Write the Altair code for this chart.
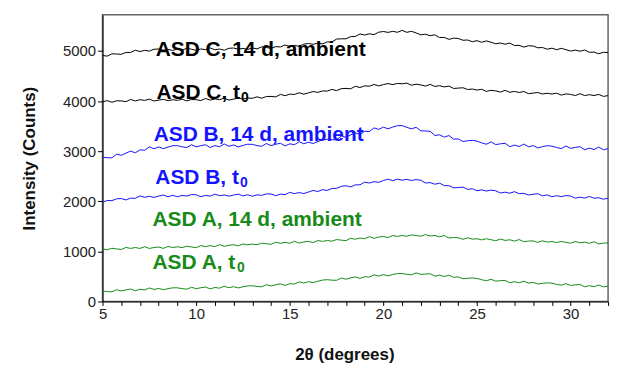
import altair as alt
import pandas as pd

# 2-theta grid (degrees), 0.25 degree steps from 5 to 32
two_theta = [5 + 0.25 * i for i in range(109)]

asd_c_14d = [4910, 4896, 4942, 4939, 4932, 4970, 4969, 5014, 4988, 5012, 4996, 5034, 5038,
             5014, 5031, 5008, 5040, 5016, 5052, 5034, 5012, 5039, 5026, 5060, 5023,
             5038, 5013, 5053, 5058, 5034, 5051, 5028, 5060, 5041, 5082, 5069, 5052,
             5086, 5079, 5118, 5088, 5110, 5091, 5136, 5148, 5132, 5156, 5140, 5180,
             5178, 5237, 5242, 5242, 5286, 5289, 5338, 5318, 5342, 5326, 5374, 5388,
             5370, 5391, 5372, 5410, 5371, 5392, 5359, 5322, 5333, 5304, 5321, 5268,
             5270, 5231, 5256, 5248, 5213, 5218, 5184, 5205, 5172, 5200, 5173, 5142,
             5158, 5134, 5156, 5108, 5112, 5076, 5104, 5098, 5063, 5068, 5034, 5055,
             5024, 5052, 5026, 4997, 5016, 4994, 5018, 4973, 4978, 4944, 4973, 4968]

asd_c_t0 = [3984, 4008, 3975, 4006, 4002, 3988, 4032, 4001, 4027, 4012, 4038, 4001, 4018,
            4034, 4008, 4026, 4014, 4037, 4002, 4031, 4027, 4010, 4051, 4018, 4042,
            4028, 4055, 4019, 4038, 4059, 4038, 4061, 4054, 4084, 4055, 4090, 4092,
            4083, 4132, 4106, 4137, 4131, 4165, 4137, 4163, 4189, 4173, 4201, 4199,
            4232, 4208, 4247, 4252, 4244, 4294, 4270, 4302, 4296, 4330, 4302, 4328,
            4349, 4328, 4351, 4344, 4358, 4315, 4336, 4322, 4298, 4332, 4291, 4307,
            4282, 4298, 4251, 4258, 4265, 4230, 4240, 4219, 4235, 4192, 4214, 4202,
            4179, 4214, 4175, 4192, 4171, 4190, 4147, 4158, 4170, 4140, 4155, 4139,
            4157, 4118, 4142, 4132, 4110, 4146, 4109, 4127, 4110, 4132, 4093, 4108]

asd_b_14d = [2880, 2869, 2866, 2940, 2916, 2960, 3001, 2966, 3026, 3017, 3086, 3048, 3084,
             3049, 3082, 3109, 3110, 3086, 3071, 3128, 3086, 3109, 3128, 3072, 3111,
             3088, 3144, 3097, 3124, 3085, 3114, 3138, 3135, 3111, 3096, 3152, 3111,
             3137, 3158, 3104, 3146, 3128, 3188, 3147, 3179, 3152, 3192, 3226, 3235,
             3228, 3228, 3301, 3276, 3323, 3366, 3333, 3396, 3391, 3464, 3434, 3479,
             3445, 3480, 3508, 3510, 3474, 3446, 3475, 3406, 3403, 3396, 3313, 3326,
             3280, 3311, 3240, 3244, 3192, 3207, 3216, 3200, 3165, 3138, 3184, 3131,
             3146, 3156, 3090, 3121, 3092, 3141, 3088, 3109, 3065, 3090, 3108, 3100,
             3072, 3051, 3102, 3056, 3074, 3088, 3027, 3061, 3032, 3081, 3028, 3049]

asd_b_t0 = [1980, 2016, 2012, 2048, 2054, 2026, 2062, 2058, 2106, 2079, 2098, 2077, 2104,
            2124, 2091, 2118, 2090, 2117, 2104, 2132, 2129, 2091, 2117, 2103, 2141,
            2110, 2126, 2101, 2124, 2142, 2106, 2130, 2100, 2128, 2117, 2146, 2144,
            2111, 2142, 2133, 2176, 2152, 2173, 2154, 2184, 2216, 2194, 2231, 2215,
            2256, 2257, 2298, 2309, 2286, 2327, 2328, 2381, 2363, 2390, 2378, 2414,
            2440, 2411, 2442, 2420, 2437, 2414, 2432, 2419, 2364, 2372, 2340, 2361,
            2313, 2310, 2268, 2274, 2282, 2236, 2250, 2210, 2227, 2204, 2222, 2209,
            2164, 2182, 2160, 2191, 2152, 2158, 2124, 2139, 2151, 2108, 2126, 2090,
            2111, 2092, 2113, 2104, 2061, 2082, 2063, 2096, 2060, 2070, 2041, 2059]

asd_a_14d = [1046, 1032, 1062, 1049, 1037, 1078, 1058, 1077, 1058, 1094, 1057, 1077, 1086,
             1060, 1098, 1077, 1091, 1075, 1103, 1088, 1074, 1115, 1094, 1114, 1095,
             1134, 1099, 1122, 1133, 1109, 1148, 1130, 1146, 1132, 1163, 1152, 1140,
             1182, 1161, 1180, 1162, 1200, 1165, 1188, 1198, 1175, 1216, 1199, 1216,
             1203, 1235, 1224, 1214, 1260, 1243, 1266, 1252, 1293, 1260, 1285, 1298,
             1275, 1316, 1299, 1316, 1300, 1329, 1316, 1302, 1335, 1306, 1317, 1290,
             1315, 1266, 1276, 1273, 1240, 1271, 1244, 1251, 1229, 1252, 1232, 1212,
             1246, 1218, 1231, 1205, 1235, 1192, 1206, 1208, 1178, 1211, 1186, 1196,
             1176, 1199, 1180, 1162, 1198, 1171, 1184, 1160, 1192, 1149, 1164, 1168]

asd_a_t0 = [209, 197, 192, 234, 210, 231, 248, 213, 244, 230, 269, 240, 260,
            234, 256, 272, 272, 256, 245, 283, 255, 274, 288, 250, 279,
            266, 304, 274, 295, 270, 293, 311, 312, 299, 293, 334, 310,
            334, 353, 320, 354, 347, 392, 368, 395, 376, 404, 427, 434,
            425, 422, 466, 445, 470, 490, 459, 494, 487, 532, 508, 535,
            512, 537, 556, 559, 542, 532, 569, 540, 548, 553, 506, 524,
            498, 524, 482, 490, 453, 464, 470, 459, 434, 414, 442, 405,
            415, 420, 374, 394, 373, 404, 367, 380, 347, 362, 371, 364,
            341, 324, 355, 320, 331, 338, 293, 314, 294, 326, 291, 305]

series_names = ["ASD C, 14 d", "ASD C, t0", "ASD B, 14 d", "ASD B, t0", "ASD A, 14 d", "ASD A, t0"]
series_values = [asd_c_14d, asd_c_t0, asd_b_14d, asd_b_t0, asd_a_14d, asd_a_t0]
series_colors = ["#000000", "#000000", "#1414ff", "#1414ff", "#178a17", "#178a17"]

label_text = ["ASD C, 14 d, ambient", "ASD C, t", "ASD B, 14 d, ambient",
              "ASD B, t", "ASD A, 14 d, ambient", "ASD A, t"]
label_sub = ["", "0", "", "0", "", "0"]
label_x = [7.84, 7.88, 7.73, 7.82, 7.67, 7.67]
label_y = [4901, 4040, 3212, 2338, 1510, 650]

rows = []
for name, vals in zip(series_names, series_values):
    for t, v in zip(two_theta, vals):
        rows.append({"two_theta": t, "intensity": v, "series": name})
lines_df = pd.DataFrame(rows)

labels_df = pd.DataFrame({
    "x": label_x, "y": label_y, "text": label_text,
    "sub": label_sub, "color": series_colors,
})
sub_df = labels_df[labels_df["sub"] != ""]

FONT = "Liberation Sans"

x_axis = alt.Axis(
    title="2θ (degrees)",
    values=list(range(5, 33)),
    labelExpr="datum.value % 5 === 0 ? datum.label : ''",
    labelOverlap=False, labelFlush=False,
    tickSize=4, labelPadding=1,
    titlePadding=25, titleX=243,
)
y_axis = alt.Axis(
    title="Intensity (Counts)",
    values=[0, 1000, 2000, 3000, 4000, 5000],
    format="d", labelOverlap=False,
    labelFlush=False, tickSize=5, labelPadding=2,
    titlePadding=24,
)
x_scale = alt.Scale(domain=[5, 32], nice=False, zero=False)
y_scale = alt.Scale(domain=[0, 5720], nice=False)

text_main = alt.Chart(labels_df).mark_text(
    align="left", baseline="alphabetic", font=FONT, fontSize=21, fontWeight="bold"
).encode(
    x=alt.X("x:Q", scale=x_scale, axis=x_axis),
    y=alt.Y("y:Q", scale=y_scale, axis=y_axis),
    text="text:N", color=alt.Color("color:N", scale=None)
)

text_sub = alt.Chart(sub_df).mark_text(
    align="left", baseline="alphabetic", font=FONT, fontSize=14, fontWeight="bold",
    dx=85, dy=3
).encode(
    x=alt.X("x:Q", scale=x_scale, axis=x_axis),
    y=alt.Y("y:Q", scale=y_scale, axis=y_axis),
    text="sub:N", color=alt.Color("color:N", scale=None)
)

lines = alt.Chart(lines_df).mark_line(strokeWidth=1, clip=True).encode(
    x=alt.X("two_theta:Q", scale=x_scale, axis=x_axis),
    y=alt.Y("intensity:Q", scale=y_scale, axis=y_axis),
    detail="series:N",
    color=alt.Color("series:N",
                    scale=alt.Scale(domain=series_names, range=series_colors),
                    legend=None),
)

chart = alt.layer(text_main, text_sub, lines).properties(
    width=508, height=288,
    padding={"left": 95, "top": 6, "right": 15, "bottom": 70},
    autosize=alt.AutoSizeParams(type="none"),
).configure_view(
    stroke="#666666", strokeWidth=1.5
).configure_axis(
    grid=False, domainColor="#000000", tickColor="#000000",
    labelColor="#222222", labelFont=FONT, labelFontSize=15,
    labelOverlap=False, labelFlush=False,
    titleFont=FONT, titleFontSize=17, titleFontWeight="bold", titleColor="#111111",
    domainWidth=1, tickWidth=1,
)

chart.save("out.html", embed_options={"renderer": "svg", "actions": False})
